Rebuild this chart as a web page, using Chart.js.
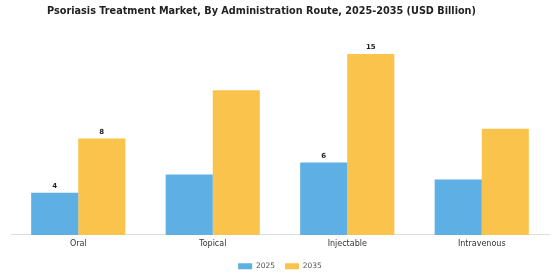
<!DOCTYPE html>
<html>
<head>
<meta charset="utf-8">
<script src="https://cdn.jsdelivr.net/npm/chart.js@4.4.0/dist/chart.umd.min.js"></script>
<style>
html,body{margin:0;padding:0;background:#fff;}
#wrap{width:560px;height:280px;position:relative;}
</style>
</head>
<body>
<div id="wrap"><canvas id="c" width="560" height="280"></canvas></div>
<script>
const chartTitle = 'Psoriasis Treatment Market, By Administration Route, 2025-2035 (USD Billion)';
const categories = ["Oral", "Topical", "Injectable", "Intravenous"];
const series2025 = [3.5, 5.0, 6.0, 4.6];
const series2035 = [8.0, 12.0, 15.0, 8.8];
const seriesNames = ["2025", "2035"];
const labeledCategories = ["Oral", "Injectable"];

const titlePlugin = {
  id: 'offsetTitle',
  afterDraw(chart) {
    const ctx = chart.ctx;
    ctx.save();
    ctx.font = 'bold 9.7px "DejaVu Sans"';
    ctx.fillStyle = '#222';
    ctx.textAlign = 'center';
    ctx.textBaseline = 'middle';
    ctx.fillText(chartTitle, 261.5, 11);
    ctx.restore();
  }
};

const valueLabels = {
  id: 'valueLabels',
  afterDatasetsDraw(chart) {
    const ctx = chart.ctx;
    ctx.save();
    ctx.font = 'bold 7px "DejaVu Sans"';
    ctx.fillStyle = '#222';
    ctx.textAlign = 'center';
    ctx.textBaseline = 'bottom';
    chart.data.datasets.forEach((ds, di) => {
      const meta = chart.getDatasetMeta(di);
      meta.data.forEach((bar, i) => {
        if (!labeledCategories.includes(chart.data.labels[i])) return;
        ctx.fillText(String(Math.round(ds.data[i])), bar.x, bar.y - 3);
      });
    });
    ctx.restore();
  }
};

new Chart(document.getElementById('c'), {
  type: 'bar',
  data: {
    labels: categories,
    datasets: [
      { label: seriesNames[0], data: series2025, backgroundColor: 'rgb(93,175,228)', categoryPercentage: 0.7, barPercentage: 1.0 },
      { label: seriesNames[1], data: series2035, backgroundColor: 'rgb(249,195,76)', categoryPercentage: 0.7, barPercentage: 1.0 }
    ]
  },
  options: {
    responsive: false,
    animation: false,
    layout: { padding: { left: 11, right: 11, top: 42, bottom: 0 } },
    plugins: {
      title: { display: false },
      legend: {
        position: 'bottom',
        labels: {
          boxWidth: 14, boxHeight: 6,
          font: { family: '"DejaVu Sans"', size: 7.5 },
          color: '#555',
          padding: 10
        }
      },
      tooltip: { enabled: false }
    },
    scales: {
      x: {
        grid: { display: false, drawTicks: false },
        border: { display: true, color: '#ddd' },
        ticks: { font: { family: '"DejaVu Sans"', size: 8 }, color: '#333', padding: 4 }
      },
      y: {
        display: false,
        min: 0,
        max: 16
      }
    }
  },
  plugins: [valueLabels, titlePlugin]
});
</script>
</body>
</html>
